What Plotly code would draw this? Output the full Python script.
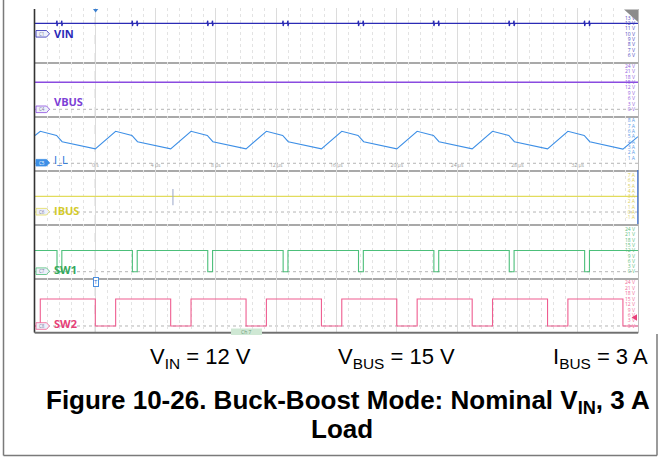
import plotly.graph_objects as go
from plotly.subplots import make_subplots

W, H = 662, 457

# ---------------- data ----------------
t_start, t_end = -4.0, 36.0
time_tick_vals = [0, 4, 8, 12, 16, 20, 24, 28, 32]
time_tick_text = ["0 s", "4 µs", "8 µs", "12 µs", "16 µs", "20 µs", "24 µs", "28 µs", "32 µs"]

vin_level = 12.0      # V
vbus_level = 15.0     # V
ibus_level = 3.0      # A
sw1_high = 12.0       # V
sw2_high = 15.0       # V
vin_spike = 0.5       # V, small ringing at switching edges

il_t = [-4.0, -3.65, -2.57, -2.2, 0.0, 1.35, 2.43, 2.8, 5.0, 6.35, 7.43, 7.8,
        10.0, 11.35, 12.43, 12.8, 15.0, 16.35, 17.43, 17.8, 20.0, 21.35, 22.43, 22.8,
        25.0, 26.35, 27.43, 27.8, 30.0, 31.35, 32.43, 32.8, 35.0, 36.0]
il_v = [5.2, 6.0, 5.22, 4.05, 2.7, 6.0, 5.22, 4.05, 2.7, 6.0, 5.22, 4.05,
        2.7, 6.0, 5.22, 4.05, 2.7, 6.0, 5.22, 4.05, 2.7, 6.0, 5.22, 4.05,
        2.7, 6.0, 5.22, 4.05, 2.7, 6.0, 5.22, 4.05, 2.65, 5.0]

sw1_fall = [-2.54, 2.46, 7.46, 12.46, 17.46, 22.46, 27.46, 32.46]
sw1_rise = [-2.22, 2.78, 7.78, 12.78, 17.78, 22.78, 27.78, 32.78]
sw2_rise = [-3.65, 1.35, 6.35, 11.35, 16.35, 21.35, 26.35, 31.35]
sw2_fall = [0.0, 5.0, 10.0, 15.0, 20.0, 25.0, 30.0, 35.0]

vin_ticks = [6, 7, 8, 9, 10, 11, 12, 13]
v24_ticks = [0, 3, 6, 9, 12, 15, 18, 21, 24]
il_ticks = [0, 1, 2, 3, 4, 5, 6, 7, 8]
ibus_ticks = [-1, 0, 1, 2, 3, 4, 5, 6, 7]

names = ["VIN", "VBUS", "I_L", "IBUS", "SW1", "SW2"]
tags = ["C1", "C4", "C5", "C6", "C7", "C8"]

# ---------------- helpers ----------------
def px(x):
    return x / W


def py(y):
    return 1 - y / H


def step_trace(t0, t1, start_level, low, high, edges_up, edges_down):
    ev = sorted([(t, high) for t in edges_up] + [(t, low) for t in edges_down])
    xs, ys = [t0], [start_level]
    lvl = start_level
    for t, new in ev:
        if t0 < t < t1:
            xs += [t, t]
            ys += [lvl, new]
            lvl = new
    xs.append(t1)
    ys.append(lvl)
    return xs, ys


def note(x, y, text, font, xanchor="center", yanchor="middle", **kw):
    d = dict(x=px(x), y=py(y), xref="paper", yref="paper", text=text, showarrow=False,
             xanchor=xanchor, yanchor=yanchor, font=font)
    d.update(kw)
    return d


# ---------------- figure ----------------
fig = make_subplots(rows=6, cols=1, shared_xaxes=True, vertical_spacing=0)

# VIN with small spikes at the switching edges
vin_x, vin_y = [t_start], [vin_level]
for t in sorted(sw1_fall + sw1_rise):
    vin_x += [t - 0.05, t, t, t + 0.05]
    vin_y += [vin_level, vin_level + vin_spike, vin_level - vin_spike, vin_level]
vin_x.append(t_end)
vin_y.append(vin_level)

sw1_x, sw1_y = step_trace(t_start, t_end, sw1_high, 0.0, sw1_high, sw1_rise, sw1_fall)
sw2_x, sw2_y = step_trace(t_start, t_end, 0.0, 0.0, sw2_high, sw2_rise, sw2_fall)

colors = ["#2b2bb5", "#8a4be0", "#3d8fe6", "#e2dc5c", "#4cbf7a", "#ef5d90"]
label_colors = ["#2a2ab8", "#7c3fd6", "#2070d8", "#d4cb2c", "#35a85c", "#e63f78"]
tick_colors = ["#4a4ac0", "#9060e0", "#5a9ae6", "#d8d060", "#5cc080", "#ef6a98"]

series = [
    (vin_x, vin_y, 1.3),
    ([t_start, t_end], [vbus_level, vbus_level], 1.6),
    (il_t, il_v, 1.1),
    ([t_start, t_end], [ibus_level, ibus_level], 1.3),
    (sw1_x, sw1_y, 1.1),
    (sw2_x, sw2_y, 1.1),
]
for i, (xs, ys, lw) in enumerate(series):
    fig.add_trace(go.Scatter(x=xs, y=ys, mode="lines", line=dict(color=colors[i], width=lw),
                             hoverinfo="skip", showlegend=False), row=i + 1, col=1)

# panel geometry (pixels)
panel_top = [8 + 54 * i for i in range(6)]
ranges = [[4.7, 14.89], [-3.72, 26.28], [-1.26, 8.87], [-2.29, 8.03], [-3.57, 27.0], [-3.33, 26.6]]
tick_sets = [(vin_ticks, "V"), (v24_ticks, "V"), (il_ticks, "A"), (ibus_ticks, "A"),
             (v24_ticks, "V"), (v24_ticks, "V")]

xdom = [px(35), px(638)]
for i in range(6):
    r = i + 1
    vals, unit = tick_sets[i]
    fig.update_yaxes(row=r, col=1, range=ranges[i], side="right", ticklabelposition="inside",
                     tickvals=vals, ticktext=[f"{v} {unit}" for v in vals],
                     tickfont=dict(size=5, color=tick_colors[i], family="Open Sans"),
                     showgrid=False, zeroline=False, showline=False, ticks="",
                     domain=[py(panel_top[i] + 54), py(panel_top[i])])
    fig.update_xaxes(row=r, col=1, range=[t_start, t_end], domain=xdom,
                     tickvals=time_tick_vals, ticktext=time_tick_text,
                     showgrid=True, gridcolor="#dcdcdc", gridwidth=1,
                     showline=True, linecolor="#a9a9a9", linewidth=1.5,
                     zeroline=False, ticks="", showticklabels=(r == 3),
                     ticklabelposition="inside",
                     tickfont=dict(size=5, color="#9a9a9a", family="Open Sans"),
                     minor=dict(dtick=0.8, tick0=0, showgrid=True, gridcolor="#e3e3e3",
                                griddash="dot", gridwidth=1))

shapes = []
# zero-level dotted lines
for i in range(1, 6):
    yref = f"y{i + 1}"
    shapes.append(dict(type="line", xref="x", yref=yref, x0=t_start, x1=t_end, y0=0, y1=0,
                       line=dict(color="#b4b4b4", width=1, dash="dot"), layer="below"))
# trigger line
shapes.append(dict(type="line", xref="x", yref="paper", x0=0, x1=0, y0=py(332), y1=py(10),
                   line=dict(color="#a0a0a0", width=1, dash="dash"), layer="below"))
# scope borders
shapes.append(dict(type="line", xref="paper", yref="paper", x0=px(34.5), x1=px(34.5),
                   y0=py(332.5), y1=py(9), line=dict(color="#333333", width=1.6)))
shapes.append(dict(type="line", xref="paper", yref="paper", x0=px(34), x1=px(638.5),
                   y0=py(332.5), y1=py(332.5), line=dict(color="#707070", width=1.6)))
shapes.append(dict(type="line", xref="paper", yref="paper", x0=px(638.5), x1=px(638.5),
                   y0=py(332.5), y1=py(9), line=dict(color="#bdbdbd", width=1)))
shapes.append(dict(type="line", xref="paper", yref="paper", x0=px(637.8), x1=px(637.8),
                   y0=py(224), y1=py(170), line=dict(color="#3a6fd0", width=1.2)))
# top-right gray triangle
shapes.append(dict(type="path", xref="paper", yref="paper",
                   path=f"M {px(624)} {py(9.5)} L {px(638)} {py(9.5)} L {px(638)} {py(22)} Z",
                   fillcolor="#8c8c8c", line=dict(width=0)))
# trigger marker at the top
shapes.append(dict(type="path", xref="paper", yref="paper",
                   path=f"M {px(93)} {py(9)} L {px(98.3)} {py(9)} L {px(95.6)} {py(12.5)} Z",
                   fillcolor="#3a7fd0", line=dict(width=0)))
# SW2 level marker on right
shapes.append(dict(type="path", xref="paper", yref="paper",
                   path=f"M {px(631.5)} {py(317.5)} L {px(637)} {py(314.3)} L {px(637)} {py(320.7)} Z",
                   fillcolor="#e8407a", line=dict(width=0)))
# IBUS cursor tick
shapes.append(dict(type="line", xref="x", yref="y4", x0=5.15, x1=5.15, y0=1.3, y1=4.4,
                   line=dict(color="#9aa6c8", width=1)))
# "Ch 7" strip
shapes.append(dict(type="rect", xref="paper", yref="paper", x0=px(231), x1=px(262),
                   y0=py(335), y1=py(328.5), fillcolor="#cfe8d4", line=dict(width=0)))
# outer frame
shapes.append(dict(type="line", xref="paper", yref="paper", x0=px(3.5), x1=px(3.5),
                   y0=py(455.5), y1=py(-3), line=dict(color="#7a7a7a", width=1.5)))
shapes.append(dict(type="line", xref="paper", yref="paper", x0=px(3.5), x1=px(657),
                   y0=py(455.5), y1=py(455.5), line=dict(color="#7a7a7a", width=1.5)))
shapes.append(dict(type="line", xref="paper", yref="paper", x0=px(657), x1=px(657),
                   y0=py(455.5), y1=py(334), line=dict(color="#7a7a7a", width=1.5)))

# channel tags (pentagon) and labels
tag_y = [33.8, 109.3, 162.7, 211.7, 271.2, 326.0]
label_y = [33.4, 101.5, 159.8, 210.6, 269.1, 323.5]
annotations = []
for i in range(6):
    yc = tag_y[i]
    filled = (i == 2)
    shapes.append(dict(type="path", xref="paper", yref="paper",
                       path=(f"M {px(36)} {py(yc - 3.3)} L {px(46.5)} {py(yc - 3.3)} "
                             f"L {px(49.5)} {py(yc)} L {px(46.5)} {py(yc + 3.3)} "
                             f"L {px(36)} {py(yc + 3.3)} Z"),
                       fillcolor=colors[i] if filled else "#eef0fa",
                       line=dict(color=colors[i], width=0.8)))
    annotations.append(note(41.5, yc, tags[i],
                            dict(size=4.5, color="white" if filled else "#7a7a9a", family="Open Sans")))
    txt = names[i] if i == 2 else f"<b>{names[i]}</b>"
    annotations.append(note(51.5, label_y[i], txt,
                            dict(size=11, color=label_colors[i], family="Open Sans"), xanchor="left"))

# trigger "T" box
annotations.append(note(95.6, 281.5, "T", dict(size=6, color="#2a6fd0", family="Open Sans"),
                        bgcolor="white", bordercolor="#4a8fe0", borderwidth=1, borderpad=0))
annotations.append(note(246.5, 331.8, "Ch 7", dict(size=5, color="#6a9a78", family="Open Sans")))

# caption
cap_font = dict(size=22, color="black", family="Liberation Sans, Arial")
annotations.append(note(200, 358, "V<sub>IN</sub> = 12 V", cap_font))
annotations.append(note(397, 358, "V<sub>BUS</sub> = 15 V", cap_font))
annotations.append(note(600, 358, "I<sub>BUS</sub> = 3 A", cap_font))
title_font = dict(size=26, color="black", family="Liberation Sans, Arial")
annotations.append(note(348, 401, "<b>Figure 10-26. Buck-Boost Mode: Nominal V<sub>IN</sub>, 3 A</b>",
                        title_font))
annotations.append(note(342, 429, "<b>Load</b>", title_font))

fig.update_layout(width=W, height=H, autosize=False, margin=dict(l=0, r=0, t=0, b=0),
                  paper_bgcolor="white", plot_bgcolor="white", showlegend=False,
                  shapes=shapes, annotations=annotations)

fig.write_html("out.html", config={"displayModeBar": False},
               post_script="document.body.style.margin='0';")
